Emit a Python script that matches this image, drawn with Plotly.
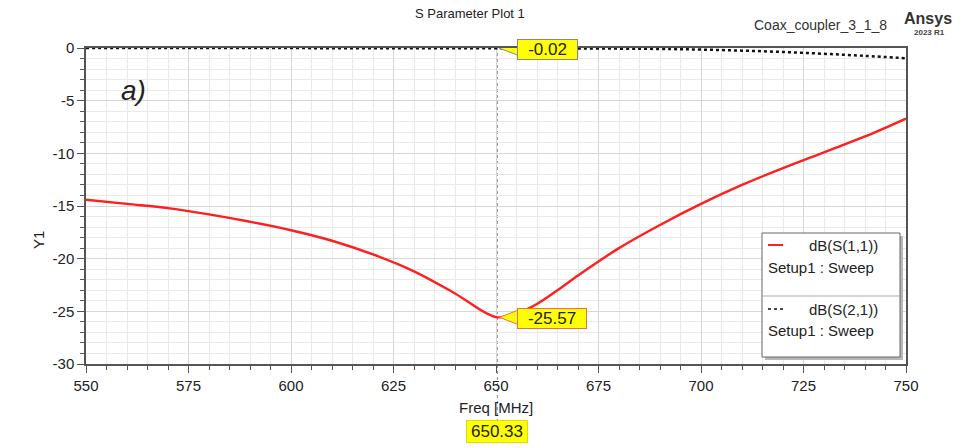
import plotly.graph_objects as go

# ---- data ----
freq_s11 = [550, 560, 570, 580, 590, 600, 610, 620, 630, 640, 650, 655, 660, 665, 670, 680, 690, 700, 710, 720, 730, 740, 750]
s11_db = [-14.4, -14.8, -15.2, -15.8, -16.5, -17.3, -18.3, -19.6, -21.2, -23.3, -25.55, -25.2, -24.3, -23.0, -21.6, -19.0, -16.8, -14.8, -13.0, -11.4, -9.9, -8.4, -6.7]
freq_s21 = [550, 575, 600, 625, 650, 670, 690, 700, 710, 720, 730, 740, 750]
s21_db = [-0.01, -0.01, -0.01, -0.02, -0.02, -0.04, -0.09, -0.15, -0.25, -0.38, -0.55, -0.75, -0.97]
series_names = ["dB(S(1,1))", "dB(S(2,1))"]
setup_label = "Setup1 : Sweep"
marker_freq = 650.33
marker_vals = [-0.02, -25.57]
x_ticks = [550, 575, 600, 625, 650, 675, 700, 725, 750]
y_ticks = [0, -5, -10, -15, -20, -25, -30]

FONT = "Liberation Sans, Arial, sans-serif"
fig = go.Figure()
fig.add_trace(go.Scatter(x=freq_s11, y=s11_db, mode="lines", line=dict(color="#ff1f1f", width=2.4, shape="spline"), name=series_names[0], showlegend=False))
fig.add_trace(go.Scatter(x=freq_s21, y=s21_db, mode="lines", line=dict(color="#111111", width=2.5, dash="dot", shape="spline"), name=series_names[1], showlegend=False))

grid_major = "#d6d6d6"
grid_minor = "#e9e9e9"
fig.update_layout(
    width=973, height=448,
    margin=dict(l=86, r=67, t=48, b=84),
    paper_bgcolor="white", plot_bgcolor="white",
    font=dict(family=FONT, color="#222"),
    xaxis=dict(range=[550, 750], tickvals=x_ticks, ticktext=[str(v) for v in x_ticks],
               showgrid=True, gridcolor=grid_major, gridwidth=1,
               minor=dict(dtick=5, showgrid=True, gridcolor=grid_minor, ticks="outside", ticklen=4, tickcolor="#555"),
               ticks="outside", ticklen=7, tickcolor="#555", showline=True, linecolor="#555", linewidth=1.5,
               mirror=True, zeroline=False, tickfont=dict(size=15, color="#222")),
    yaxis=dict(range=[-30, 0], tickvals=y_ticks, ticktext=[str(v) for v in y_ticks],
               showgrid=True, gridcolor=grid_major, gridwidth=1,
               minor=dict(dtick=1, showgrid=True, gridcolor=grid_minor, ticks="outside", ticklen=4, tickcolor="#555"),
               ticks="outside", ticklen=7, tickcolor="#555", showline=True, linecolor="#555", linewidth=1.5,
               mirror=True, zeroline=False, tickfont=dict(size=15, color="#222")),
)

annotations = []


def pxx(x):
    return (x - 86) / 820


def pxy(y):
    return (364 - y) / 316


def px_ann(text, x, y, size, xanchor="center", **kw):
    d = dict(text=text, x=pxx(x), y=pxy(y), xref="paper", yref="paper", showarrow=False,
             xanchor=xanchor, yanchor="middle",
             font=dict(size=size, family=kw.pop("family", FONT), color=kw.pop("color", "#222")))
    d.update(kw)
    annotations.append(d)


px_ann("S Parameter Plot 1", 470, 13, 13)
px_ann("Coax_coupler_3_1_8", 820, 25, 14, color="#333")
px_ann("<b>Ansys</b>", 928, 19, 16, color="#333")
px_ann("<b>2023 R1</b>", 929, 33, 8, color="#444")
px_ann("<i>a)</i>", 133, 90, 28)
px_ann("Freq [MHz]", 496, 407, 15)
px_ann("Y1", 38, 240, 15, textangle=-90)

# legend box
lx0, lx1, ly0, ly1, ldiv = 762, 900, 233, 357, 296
shapes = []
shapes.append(dict(type="rect", xref="paper", yref="paper", x0=pxx(lx0 + 3), x1=pxx(lx1 + 3), y0=pxy(ly0 + 3), y1=pxy(ly1 + 3), fillcolor="#b8b8b8", line=dict(width=0)))
shapes.append(dict(type="rect", xref="paper", yref="paper", x0=pxx(lx0), x1=pxx(lx1), y0=pxy(ly0), y1=pxy(ly1), fillcolor="white", line=dict(color="#666", width=1)))
shapes.append(dict(type="line", xref="paper", yref="paper", x0=pxx(lx0), x1=pxx(lx1), y0=pxy(ldiv), y1=pxy(ldiv), line=dict(color="#aaa", width=1)))
shapes.append(dict(type="line", xref="paper", yref="paper", x0=pxx(768), x1=pxx(783), y0=pxy(245), y1=pxy(245), line=dict(color="#ff1f1f", width=2)))
shapes.append(dict(type="line", xref="paper", yref="paper", x0=pxx(768), x1=pxx(783), y0=pxy(309), y1=pxy(309), line=dict(color="#111", width=1.5, dash="dot")))
px_ann(series_names[0], 843, 245, 15)
px_ann(setup_label, 766, 267, 15, xanchor="left")
px_ann(series_names[1], 843, 309, 15)
px_ann(setup_label, 766, 330, 15, xanchor="left")

# marker line
shapes.append(dict(type="line", xref="x", yref="paper", x0=marker_freq, x1=marker_freq, y0=pxy(422), y1=1, line=dict(color="#888", width=1, dash="dot"), layer="below"))

# marker labels
borders = ["#888888", "#e8704a"]
for v, bc in zip(marker_vals, borders):
    txt = f"{v:.2f}"
    annotations.append(dict(text=txt, x=marker_freq, y=v, xref="x", yref="y", showarrow=False,
                            xanchor="left", yanchor="middle", xshift=20, yshift=-1,
                            width=len(txt) * 9 + 12, height=17, align="center",
                            bgcolor="#ffff00", bordercolor=bc, borderwidth=1, borderpad=1,
                            font=dict(size=17, color="#222", family=FONT)))
    shapes.append(dict(type="path", xref="x", yref="y", xsizemode="pixel", ysizemode="pixel",
                       xanchor=marker_freq, yanchor=v,
                       path="M 2 0 L 23 8 L 23 -8 Z", fillcolor="#ffff00", line=dict(color=bc, width=1)))

annotations.append(dict(text=f"{marker_freq:.2f}", x=marker_freq, y=pxy(431), xref="x", yref="paper", showarrow=False,
                        xanchor="center", yanchor="middle", width=58, height=19,
                        bgcolor="#ffff00", bordercolor="#dddd00", borderwidth=1, borderpad=1,
                        font=dict(size=17, color="#222", family=FONT)))

fig.update_layout(annotations=annotations, shapes=shapes)
fig.write_html("out.html", config={"displayModeBar": False},
               post_script="document.body.style.margin='0';document.body.style.overflow='hidden';")
